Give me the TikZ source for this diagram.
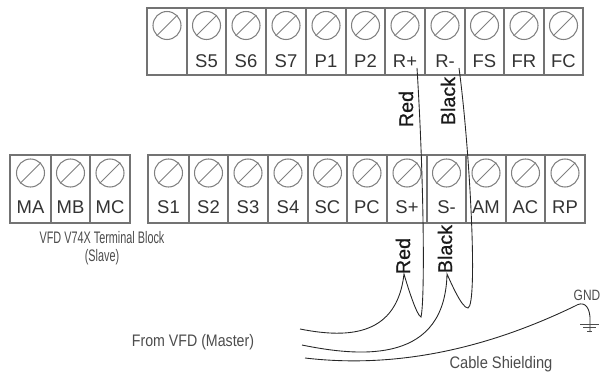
\documentclass[tikz,border=0pt]{standalone}
\usepackage{fontspec}
\setmainfont{Liberation Sans}
\newfontfamily\wirefont[RawFeature={embolden=0.7}]{Liberation Sans}
\tikzset{
    termcell/.style={draw=black!55,line width=0.8pt},
    screwhead/.style={draw=black!50,line width=0.6pt,circle,minimum size=0.56cm,inner sep=0pt},
    screwslot/.style={black!50,line width=0.5pt},
    termlabel/.style={text=black!80,font=\fontsize{10.5}{12}\selectfont},
    wirelabel/.style={rotate=90,text=black!90,font=\wirefont\fontsize{11.2}{13}\selectfont},
    notelabel/.style={text=black!70,font=\fontsize{9.5}{10}\selectfont},
    wireline/.style={black!85,line width=0.5pt}
}
\begin{document}
\begin{tikzpicture}[x=0.02cm,y=-0.02cm]
    \useasboundingbox (0,0) rectangle (602,375);
    % upper row
    \foreach \xa/\xb/\name [count=\i] in {
        147/187/,187/226/S5,226/266/S6,266/306/S7,306/346/P1,346/385/P2,
        385/425/R+,425/465/R-,465/504/FS,504/544/FR,544/583/FC}{
        \draw[termcell] (\xa,8) rectangle (\xb,75);
        \node[screwhead] (up\i) at ({(\xa+\xb)/2},25.5) {};
        \draw[screwslot] (up\i.225) -- (up\i.45);
        \node[termlabel] (uplab\i) at ({(\xa+\xb)/2},61) {\name};
    }
    % lower row
    \foreach \xa/\xb/\name [count=\i] in {
        148/189/S1,189/228/S2,228/268/S3,268/308/S4,308/347/SC,347/387/PC,
        387/427/S+,427/466/S-,466/506/AM,506/545/AC,545/585/RP}{
        \draw[termcell] (\xa,155) rectangle (\xb,223);
        \node[screwhead] (lo\i) at ({(\xa+\xb)/2},173) {};
        \draw[screwslot] (lo\i.225) -- (lo\i.45);
        \node[termlabel] (lolab\i) at ({(\xa+\xb)/2},207) {\name};
    }
    % relay block
    \foreach \xa/\xb/\name [count=\i] in {10/51/MA,51/90/MB,90/130/MC}{
        \draw[termcell] (\xa,155) rectangle (\xb,223);
        \node[screwhead] (ma\i) at ({(\xa+\xb)/2},173) {};
        \draw[screwslot] (ma\i.225) -- (ma\i.45);
        \node[termlabel] (malab\i) at ({(\xa+\xb)/2},207) {\name};
    }
    \node[notelabel,align=center] (blockname) at (102,248) {\scalebox{0.65}[1]{VFD V74X Terminal Block}\\\scalebox{0.65}[1]{(Slave)}};
    \node[notelabel] (master) at (193,342) {\scalebox{0.85}[1]{From VFD (Master)}};
    \node[notelabel] (shield) at (501,364) {\scalebox{0.88}[1]{Cable Shielding}};
    \node[notelabel,font=\fontsize{8.5}{10}\selectfont] (gnd) at (587,295) {\scalebox{0.8}[1]{GND}};
    \node[wirelabel] (redup) at (406,109) {Red};
    \node[wirelabel] (blackup) at (448,101) {Black};
    \node[wirelabel] (redlo) at (403,256) {Red};
    \node[wirelabel] (blacklo) at (445,249) {Black};
    \coordinate (redtop) at (417,68);
    \coordinate (blacktop) at (459,68);
    \coordinate (redend) at (300,329);
    \coordinate (blackend) at (302,345);
    \coordinate (shieldend) at (305,358);
    \coordinate (gndpt) at (590,317);
    % wires
    \draw[wireline] (redend) .. controls (350,339) and (397,335) .. (404,274)
        .. controls (408,288) and (417,316) .. (421,317)
        .. controls (425,300) and (424,180) .. (redtop);
    \draw[wireline] (blackend) .. controls (365,358) and (445,362) .. (447,274)
        .. controls (452,285) and (462,308) .. (468,308)
        .. controls (478,305) and (470,150) .. (blacktop);
    \draw[wireline] (shieldend) .. controls (390,368) and (480,352) .. (575,306)
        .. controls (583,301) and (589,305) .. (gndpt) -- (590,332);
    % earth symbol
    \draw[black!70,line width=0.4pt] (580,324) -- (599,324) (583,327) -- (596,327) (587,331) -- (592,331);
\end{tikzpicture}
\end{document}
